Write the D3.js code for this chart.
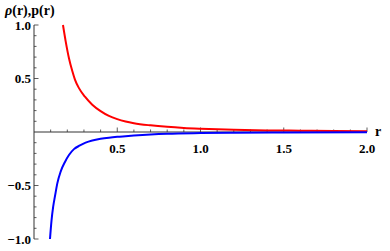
<!DOCTYPE html>
<html><head><meta charset="utf-8">
<script src="https://cdn.jsdelivr.net/npm/d3@7"></script>
<style>body{margin:0;background:#fff}svg{display:block}</style>
</head><body>
<svg id="c" width="390" height="251"></svg>
<script>
// Red curve rho(r)
const rhoR = [0.174,0.19,0.21,0.23,0.246,0.27,0.306,0.35,0.40,0.45,0.50,0.55,0.60,0.70,0.80,0.90,1.00,1.20,1.40,1.60,1.80,2.00];
const rhoV = [1.00,0.85,0.69,0.57,0.49,0.41,0.33,0.255,0.195,0.15,0.12,0.098,0.082,0.062,0.048,0.038,0.031,0.021,0.015,0.012,0.009,0.007];
// Blue curve p(r)
const pR = [0.096,0.105,0.115,0.126,0.14,0.16,0.186,0.21,0.24,0.276,0.31,0.35,0.40,0.45,0.50,0.55,0.60,0.70,0.80,1.00,1.20,1.50,2.00];
const pV = [-1.00,-0.83,-0.70,-0.60,-0.48,-0.37,-0.28,-0.215,-0.16,-0.126,-0.10,-0.08,-0.064,-0.053,-0.045,-0.039,-0.033,-0.023,-0.016,-0.010,-0.007,-0.005,-0.003];
const xTicks = [0.5,1.0,1.5,2.0];
const xTickLabels = ["0.5","1.0","1.5","2.0"];
const yTicks = [-1.0,-0.5,0.5,1.0];
const yTickLabels = ["\u22121.0","\u22120.5","0.5","1.0"];
const xMinor = d3.range(1,21).map(i=>i/10);
const yMinor = d3.range(-10,11).filter(i=>i!==0).map(i=>i/10);

const svg = d3.select("#c");
const x = d3.scaleLinear().domain([0,2]).range([34,367]);
const y = d3.scaleLinear().domain([-1,1]).range([239,25]);
const font = "'Liberation Serif','Times New Roman',serif";
const axCol = "#333";

// axes lines
svg.append("line").attr("x1",x(0)).attr("x2",x(2)).attr("y1",y(0)).attr("y2",y(0)).attr("stroke",axCol).attr("stroke-width",1);
svg.append("line").attr("x1",x(0)).attr("x2",x(0)).attr("y1",y(-1)).attr("y2",y(1)).attr("stroke",axCol).attr("stroke-width",1);

// x ticks (upward)
svg.selectAll(".xm").data(xMinor).enter().append("line")
  .attr("x1",d=>x(d)).attr("x2",d=>x(d))
  .attr("y1",y(0)).attr("y2",d=>y(0)-(Math.abs(d*2-Math.round(d*2))<1e-6?4.5:2.5))
  .attr("stroke",axCol).attr("stroke-width",0.8);
// y ticks (rightward)
svg.selectAll(".ym").data(yMinor).enter().append("line")
  .attr("y1",d=>y(d)).attr("y2",d=>y(d))
  .attr("x1",x(0)).attr("x2",d=>x(0)+(Math.abs(d*2-Math.round(d*2))<1e-6?4.5:2.5))
  .attr("stroke",axCol).attr("stroke-width",0.8);

// tick labels
svg.selectAll(".xl").data(xTicks).enter().append("text")
  .attr("x",d=>x(d)).attr("y",y(0)+21).attr("text-anchor","middle")
  .attr("font-family",font).attr("font-weight","bold").attr("font-size",13)
  .text((d,i)=>xTickLabels[i]);
svg.selectAll(".yl").data(yTicks).enter().append("text")
  .attr("x",x(0)-3).attr("y",d=>y(d)+4.5).attr("text-anchor","end")
  .attr("font-family",font).attr("font-weight","bold").attr("font-size",13)
  .text((d,i)=>yTickLabels[i]);

// axis labels
svg.append("text").attr("x",375).attr("y",y(0)+4).attr("font-family",font).attr("font-weight","bold").attr("font-size",14).text("r");
const yl = svg.append("text").attr("x",5).attr("y",15).attr("font-family",font).attr("font-weight","bold").attr("font-size",14);
yl.append("tspan").attr("font-style","italic").text("\u03C1");
yl.append("tspan").text("(r),p(r)");

// curves
svg.append("defs").append("clipPath").attr("id","clip").append("rect")
  .attr("x",x(0)).attr("y",y(1)-1).attr("width",x(2)-x(0)+2).attr("height",y(-1)-y(1)+2);
const line = d3.line().x(d=>x(d[0])).y(d=>y(d[1])).curve(d3.curveMonotoneX);
svg.append("path").datum(rhoR.map((r,i)=>[r,rhoV[i]])).attr("d",line)
  .attr("fill","none").attr("stroke","#ff0000").attr("stroke-width",2).attr("clip-path","url(#clip)");
svg.append("path").datum(pR.map((r,i)=>[r,pV[i]])).attr("d",line)
  .attr("fill","none").attr("stroke","#0000ff").attr("stroke-width",2).attr("clip-path","url(#clip)");
</script>
</body></html>
